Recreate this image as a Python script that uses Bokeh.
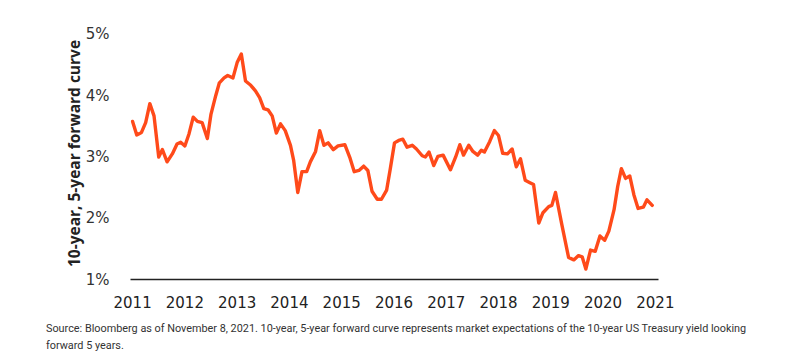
from bokeh.plotting import figure
from bokeh.models import Range1d, Div, ColumnDataSource
from bokeh.layouts import column
from bokeh.embed import file_html
from bokeh.resources import INLINE

# Decimal year of each observation
dates = [
    2011.00, 2011.08, 2011.17, 2011.25, 2011.33, 2011.41, 2011.50, 2011.57, 2011.66, 2011.76,
    2011.85, 2011.92, 2012.00, 2012.08, 2012.16, 2012.24, 2012.33, 2012.43, 2012.50, 2012.59,
    2012.66, 2012.75, 2012.82, 2012.92, 2013.00, 2013.08, 2013.16, 2013.26, 2013.35, 2013.43,
    2013.51, 2013.59, 2013.67, 2013.75, 2013.83, 2013.92, 2014.02, 2014.08, 2014.16, 2014.24,
    2014.33, 2014.40, 2014.50, 2014.58, 2014.66, 2014.74, 2014.84, 2014.93, 2015.06, 2015.16,
    2015.24, 2015.33, 2015.42, 2015.50, 2015.58, 2015.68, 2015.76, 2015.86, 2015.93, 2016.01,
    2016.09, 2016.17, 2016.25, 2016.35, 2016.43, 2016.54, 2016.60, 2016.67, 2016.76, 2016.84,
    2016.94, 2017.08, 2017.18, 2017.26, 2017.33, 2017.43, 2017.51, 2017.60, 2017.67, 2017.73,
    2017.83, 2017.92, 2018.00, 2018.08, 2018.17, 2018.26, 2018.34, 2018.42, 2018.51, 2018.60,
    2018.67, 2018.77, 2018.85, 2018.96, 2019.02, 2019.09, 2019.21, 2019.34, 2019.44, 2019.53,
    2019.60, 2019.67, 2019.76, 2019.85, 2019.94, 2020.03, 2020.11, 2020.21, 2020.28, 2020.35,
    2020.43, 2020.51, 2020.59, 2020.67, 2020.77, 2020.84, 2020.94,
]

# 10-year, 5-year forward rate (%)
forward_rate = [
    3.58, 3.36, 3.40, 3.56, 3.87, 3.67, 3.00, 3.12, 2.92, 3.05,
    3.21, 3.24, 3.18, 3.38, 3.65, 3.58, 3.56, 3.30, 3.70, 4.00,
    4.21, 4.29, 4.33, 4.29, 4.54, 4.68, 4.24, 4.17, 4.08, 3.97,
    3.79, 3.77, 3.67, 3.39, 3.54, 3.43, 3.19, 2.95, 2.42, 2.76,
    2.76, 2.92, 3.09, 3.43, 3.19, 3.23, 3.12, 3.18, 3.20, 2.98,
    2.76, 2.78, 2.85, 2.78, 2.44, 2.31, 2.31, 2.46, 2.81, 3.23,
    3.27, 3.29, 3.16, 3.19, 3.13, 3.02, 3.00, 3.08, 2.86, 3.01,
    3.03, 2.79, 3.00, 3.20, 3.03, 3.19, 3.09, 3.03, 3.11, 3.08,
    3.25, 3.43, 3.35, 3.06, 3.05, 3.13, 2.84, 2.97, 2.62, 2.58,
    2.55, 1.92, 2.09, 2.19, 2.21, 2.42, 1.90, 1.36, 1.32, 1.39,
    1.37, 1.17, 1.48, 1.46, 1.71, 1.64, 1.79, 2.14, 2.52, 2.81,
    2.65, 2.69, 2.38, 2.16, 2.18, 2.30, 2.21,
]

x_ticks = [2011, 2012, 2013, 2014, 2015, 2016, 2017, 2018, 2019, 2020, 2021]
x_tick_labels = ["2011", "2012", "2013", "2014", "2015", "2016", "2017", "2018", "2019", "2020", "2021"]
y_ticks = [1, 2, 3, 4, 5]
y_tick_labels = ["1%", "2%", "3%", "4%", "5%"]

y_axis_label = "10-year, 5-year forward curve"
footnote = ("Source: Bloomberg as of November 8, 2021. 10-year, 5-year forward curve represents "
            "market expectations of the 10-year US Treasury yield looking<br>forward 5 years.")

source = ColumnDataSource(data=dict(x=dates, y=forward_rate))

p = figure(
    width=789, height=310,
    x_range=Range1d(2010.96, 2021.06),
    y_range=Range1d(1.0, 5.113),
    output_backend="svg", toolbar_location=None,
    min_border_left=130, min_border_right=131,
    min_border_top=27, min_border_bottom=31,
)
p.outline_line_color = None
p.background_fill_color = "white"
p.border_fill_color = "white"
p.grid.visible = False

p.line("x", "y", source=source, line_color="#ff4a1a", line_width=3.4,
       line_join="round", line_cap="round")

# x axis
xa = p.xaxis[0]
xa.ticker = x_ticks
xa.major_label_overrides = {t: l for t, l in zip(x_ticks, x_tick_labels)}
xa.major_tick_line_color = None
xa.minor_tick_line_color = None
xa.axis_line_color = "#222222"
xa.axis_line_width = 1.6
xa.major_label_standoff = 10
xa.major_label_text_font = "DejaVu Sans"
xa.major_label_text_font_size = "15px"
xa.major_label_text_color = "#222222"

# y axis
ya = p.yaxis[0]
ya.ticker = y_ticks
ya.major_label_overrides = {t: l for t, l in zip(y_ticks, y_tick_labels)}
ya.major_tick_line_color = None
ya.minor_tick_line_color = None
ya.axis_line_color = None
ya.major_label_standoff = 15
ya.major_label_text_font = "DejaVu Sans"
ya.major_label_text_font_size = "15px"
ya.major_label_text_color = "#333333"
ya.axis_label = y_axis_label
ya.axis_label_text_font = "Open Sans"
ya.axis_label_text_font_style = "bold"
ya.axis_label_text_font_size = "15.5px"
ya.axis_label_text_color = "#222222"
ya.axis_label_standoff = -2

note = Div(
    text=footnote, width=780,
    margin=(10, 0, 0, 46),
    styles={"font-family": "Roboto", "font-size": "10.85px", "line-height": "17px", "color": "#333333"},
)

layout = column(p, note)
open("out.html", "w").write(file_html(layout, INLINE))
